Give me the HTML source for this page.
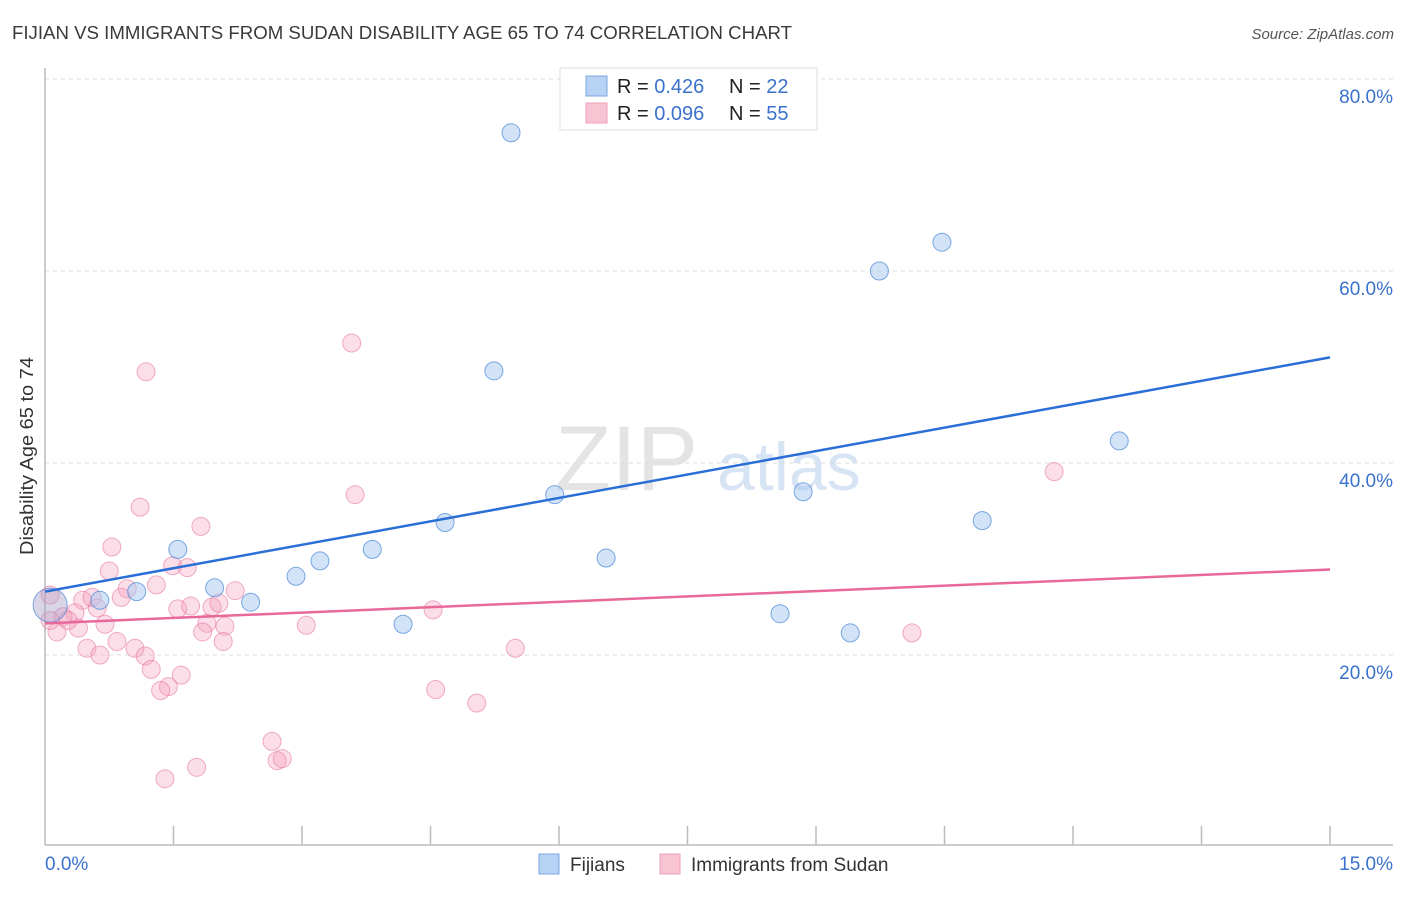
<!DOCTYPE html>
<html><head><meta charset="utf-8"><style>
body{margin:0;background:#fff;font-family:"Liberation Sans",sans-serif;}
svg text{font-family:"Liberation Sans",sans-serif;}
</style></head><body>
<svg id="chart" width="1406" height="892" xmlns="http://www.w3.org/2000/svg">
<text x="12" y="39" font-size="18.5" fill="#3a3a3a" textLength="780" lengthAdjust="spacingAndGlyphs">FIJIAN VS IMMIGRANTS FROM SUDAN DISABILITY AGE 65 TO 74 CORRELATION CHART</text>
<text x="1394" y="39" font-size="15" fill="#555" text-anchor="end" font-style="italic">Source: ZipAtlas.com</text>
<text x="555" y="490" font-size="92" fill="#e4e4e4" font-family="Liberation Serif">ZIP</text>
<text x="717" y="490" font-size="68" fill="#d6e4f4">atlas</text>
<g id="grid"></g>
<g id="axes"></g>
<g id="pts"></g>
<g id="lines"></g>
<text transform="translate(33,456) rotate(-90)" font-size="18" fill="#333" text-anchor="middle" textLength="198" lengthAdjust="spacingAndGlyphs">Disability Age 65 to 74</text>
<g>
<rect x="560" y="68" width="257" height="62" fill="#fff" stroke="#ddd"/>
<rect x="586" y="76" width="21" height="20" fill="#b8d2f4" stroke="#7aa6e0"/>
<rect x="586" y="103" width="21" height="20" fill="#f8c4d4" stroke="#eea0b8"/>
<text x="617" y="93" font-size="20" fill="#222">R = <tspan fill="#3a72cc">0.426</tspan><tspan x="729">N = </tspan><tspan fill="#3a72cc">22</tspan></text>
<text x="617" y="120" font-size="20" fill="#222">R = <tspan fill="#3a72cc">0.096</tspan><tspan x="729">N = </tspan><tspan fill="#3a72cc">55</tspan></text>
</g>
<g>
<rect x="539" y="854" width="20" height="20" fill="#b8d2f4" stroke="#7aa6e0"/>
<text x="570" y="871" font-size="19" fill="#333">Fijians</text>
<rect x="660" y="854" width="20" height="20" fill="#f8c4d4" stroke="#eea0b8"/>
<text x="691" y="871" font-size="19" fill="#333">Immigrants from Sudan</text>
</g>
</svg>
<script>
const yTicks=[20,40,60,80];
const xTickCount=10;
const fijX=[0.06,0.64,1.07,1.55,1.98,2.40,2.93,3.21,3.82,4.18,4.67,5.24,5.44,5.95,6.55,8.58,8.85,9.40,9.74,10.47,10.94,12.54];
const fijY=[25.2,25.7,26.6,31.0,27.0,25.5,28.2,29.8,31.0,23.2,33.8,49.6,74.4,36.7,30.1,24.3,37.0,22.3,60.0,63.0,34.0,42.3];
const sudX=[1.11,1.82,0.78,0.75,3.62,1.49,1.66,1.30,0.96,0.89,0.44,0.55,0.61,0.35,0.21,0.70,0.39,0.14,0.49,0.64,0.84,1.05,1.17,1.24,1.59,1.44,1.35,1.55,1.70,1.95,2.03,2.22,1.89,1.84,2.10,2.08,3.05,2.65,2.71,2.77,1.77,1.40,0.06,0.06,0.27,1.18,3.58,4.53,4.56,5.04,5.49,10.12,11.78];
const sudY=[35.4,33.4,31.25,28.75,36.7,29.3,29.1,27.3,26.9,26.0,25.7,26.0,24.9,24.4,24.0,23.2,22.8,22.4,20.7,20.0,21.4,20.7,19.9,18.5,17.9,16.7,16.3,24.8,25.1,25.0,25.4,26.7,23.3,22.4,23.0,21.4,23.1,11.0,9.0,9.2,8.3,7.1,26.25,23.6,23.6,49.5,52.5,24.7,16.4,15.0,20.7,22.3,39.1];
const fijLine=[26.6,51.0];
const sudLine=[23.3,28.9];
const xMax=15;
const NS='http://www.w3.org/2000/svg';
const X=v=>45+v/xMax*1285;
const Y=v=>847-v*9.6;
function mk(tag,attrs,parent){const e=document.createElementNS(NS,tag);for(const k in attrs)e.setAttribute(k,attrs[k]);parent.appendChild(e);return e;}
const grid=document.getElementById('grid'),axes=document.getElementById('axes'),pts=document.getElementById('pts'),lines=document.getElementById('lines');
yTicks.forEach(t=>{
 const l=mk('line',{x1:45,x2:1393,y1:Y(t),y2:Y(t),stroke:'#ddd','stroke-dasharray':'4,4'},grid);
 
 
 const tx=mk('text',{x:1393,y:Y(t)+24,'font-size':19,fill:'#3a72cc','text-anchor':'end'},grid);
 tx.textContent=t.toFixed(1)+'%';
 
 
});
const ax=mk('line',{x1:45,x2:1393,y1:845,y2:845,stroke:'#bbb','stroke-width':1.5},axes);


const ay=mk('line',{x1:45,x2:45,y1:68,y2:845,stroke:'#bbb','stroke-width':1.5},axes);


for(let i=1;i<=xTickCount;i++){
 const t=mk('line',{x1:X(i*xMax/xTickCount),x2:X(i*xMax/xTickCount),y1:826,y2:845,stroke:'#bbb','stroke-width':1.5},axes);
 
 
}
const xl0=mk('text',{x:45,y:870,'font-size':19,fill:'#3a72cc'},axes);xl0.textContent='0.0%';


const xl1=mk('text',{x:1393,y:870,'font-size':19,fill:'#3a72cc','text-anchor':'end'},axes);xl1.textContent=xMax.toFixed(1)+'%';


sudX.forEach((v,i)=>{
 const c=mk('circle',{cx:X(v),cy:Y(sudY[i]),r:9,fill:'rgba(244,160,188,0.35)',stroke:'rgba(232,120,160,0.6)','stroke-width':1},pts);
 
 
});
fijX.forEach((v,i)=>{
 const c=mk('circle',{cx:X(v),cy:Y(fijY[i]),r:i===0?17:9,fill:i===0?'rgba(170,160,200,0.45)':'rgba(168,200,240,0.5)',stroke:'rgba(80,140,216,0.75)','stroke-width':1},pts);
 
 
});
const lb=mk('line',{x1:X(0),y1:Y(fijLine[0]),x2:X(xMax),y2:Y(fijLine[1]),stroke:'#2a6fd6','stroke-width':2.5},lines);


const lp=mk('line',{x1:X(0),y1:Y(sudLine[0]),x2:X(xMax),y2:Y(sudLine[1]),stroke:'#e8689a','stroke-width':2.5},lines);


</script>
</body></html>
